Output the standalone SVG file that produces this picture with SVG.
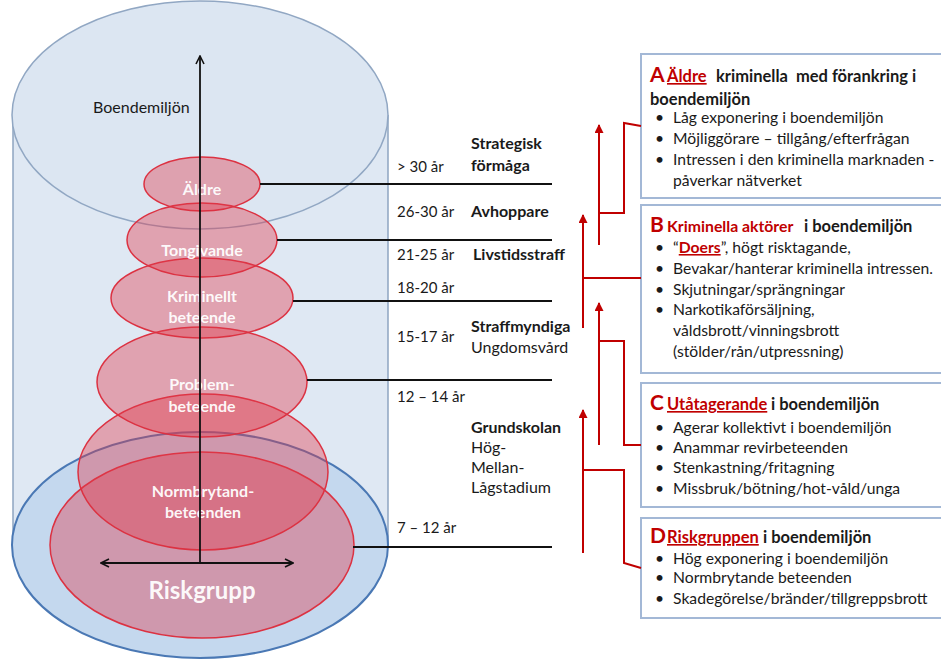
<svg xmlns="http://www.w3.org/2000/svg" width="941" height="659" viewBox="0 0 941 659">
<defs>
<style>
text{font-family:Lato,"Liberation Sans",sans-serif;font-size:15.7px;fill:#1a1a1a}
.b{font-weight:bold}
.h{font-weight:bold;font-size:16.5px}
.ag{font-size:15px}
.rt{font-size:16px}
.w{fill:#fff;font-weight:bold;text-anchor:middle;fill-opacity:.95;font-size:16px}
.big{font-size:24px}
.red{fill:#c00000;font-weight:bold}
.L{font-size:21px}
.u{text-decoration:underline}
.box{fill:#fff;stroke:#a3b8d6;stroke-width:2}
.rl{stroke:#c00000;stroke-width:2;fill:none}
.bl{stroke:#111;stroke-width:1.8;fill:none}
.re{fill:#e23a4c;fill-opacity:.4;stroke:#dc3242;stroke-width:1.5}
</style>
<marker id="oa" viewBox="0 0 10 10" refX="9" refY="5" markerWidth="10" markerHeight="10" markerUnits="userSpaceOnUse" orient="auto-start-reverse">
<path d="M1,1 L9,5 L1,9" fill="none" stroke="#111" stroke-width="1.6"/>
</marker>
<marker id="ra" viewBox="0 0 10 10" refX="9" refY="5" markerWidth="10" markerHeight="9" markerUnits="userSpaceOnUse" orient="auto">
<path d="M0,0 L10,5 L0,10 Z" fill="#c00000"/>
</marker>
</defs>
<rect width="941" height="659" fill="#fff"/>

<g id="cylinder">
<rect x="13" y="115" width="375" height="430" fill="#dfe8f3"/>
<line x1="13" y1="115" x2="13" y2="545" stroke="#8ea4c0" stroke-width="1.5"/>
<line x1="388" y1="115" x2="388" y2="545" stroke="#8ea4c0" stroke-width="1.5"/>
<ellipse cx="200" cy="545" rx="188" ry="113" fill="#c4d8ee" stroke="#4a78b4" stroke-width="2"/>
<ellipse cx="200" cy="115" rx="188" ry="114" fill="#dce6f2" stroke="#91a7c3" stroke-width="1.5"/>
<text x="93" y="113" style="font-size:16px">Boendemiljön</text>
</g>

<g id="riskgrupp">
<ellipse class="re" cx="202" cy="545" rx="152" ry="93"/>
<text class="w big" x="202" y="599">Riskgrupp</text>
</g>
<g id="normbrytand">
<ellipse class="re" cx="203" cy="472" rx="125" ry="78"/>
<text class="w" x="203" y="497">Normbrytand-</text>
<text class="w" x="203" y="518">beteenden</text>
</g>
<g id="problem">
<ellipse class="re" cx="202" cy="382" rx="105" ry="55"/>
<text class="w" x="202" y="390">Problem-</text>
<text class="w" x="202" y="412">beteende</text>
</g>
<g id="kriminellt">
<ellipse class="re" cx="202" cy="298" rx="91" ry="40"/>
<text class="w" x="202" y="302">Kriminellt</text>
<text class="w" x="202" y="323">beteende</text>
</g>
<g id="tongivande">
<ellipse class="re" cx="202" cy="240" rx="75" ry="37"/>
<text class="w" x="202" y="256">Tongivande</text>
</g>
<g id="aldre">
<ellipse class="re" cx="202" cy="184" rx="58" ry="27"/>
<text class="w" x="202" y="195">Äldre</text>
</g>

<g id="axes">
<line class="bl" x1="200" y1="563" x2="200" y2="56" marker-end="url(#oa)"/>
<line class="bl" x1="101" y1="563" x2="293" y2="563" marker-start="url(#oa)" marker-end="url(#oa)"/>
</g>

<g id="age-labels">
<text class="ag" x="397" y="172">&gt; 30 år</text>
<text class="ag" x="397" y="217">26-30 år</text>
<text class="ag" x="397" y="260">21-25 år</text>
<text class="ag" x="397" y="293">18-20 år</text>
<text class="ag" x="397" y="342">15-17 år</text>
<text class="ag" x="397" y="402">12 – 14 år</text>
<text class="ag" x="397" y="533">7 – 12 år</text>
<text class="b rt" x="471" y="149">Strategisk</text>
<text class="b rt" x="471" y="171">förmåga</text>
<text class="b rt" x="471" y="217">Avhoppare</text>
<text class="b rt" x="473" y="260">Livstidsstraff</text>
<text class="b rt" x="471" y="332">Straffmyndiga</text>
<text class="rt" x="471" y="353">Ungdomsvård</text>
<text class="b rt" x="471" y="433">Grundskolan</text>
<text class="rt" x="471" y="453">Hög-</text>
<text class="rt" x="471" y="473">Mellan-</text>
<text class="rt" x="471" y="493">Lågstadium</text>
</g>

<g id="box-a">
<rect class="box" x="641" y="54" width="310" height="144"/>
<text class="h" x="650" y="82"><tspan class="red L">A</tspan><tspan class="red u" x="667">Äldre</tspan><tspan x="716" xml:space="preserve">kriminella  med förankring i</tspan></text>
<text class="h" x="650" y="105">boendemiljön</text>
<text x="655" y="123">•</text><text x="673" y="123">Låg exponering i boendemiljön</text>
<text x="655" y="144">•</text><text x="673" y="144">Möjliggörare – tillgång/efterfrågan</text>
<text x="655" y="165">•</text><text x="673" y="165">Intressen i den kriminella marknaden -</text>
<text x="673" y="186">påverkar nätverket</text>
</g>

<g id="box-b">
<rect class="box" x="641" y="205" width="310" height="168"/>
<text class="h" x="650" y="232"><tspan class="red L">B</tspan><tspan class="red" x="667" style="font-size:15.8px">Kriminella aktörer</tspan><tspan x="804">i boendemiljön</tspan></text>
<text x="655" y="253">•</text><text x="673" y="253">“<tspan class="red u">Doers</tspan>”, högt risktagande,</text>
<text x="655" y="274">•</text><text x="673" y="274">Bevakar/hanterar kriminella intressen.</text>
<text x="655" y="295">•</text><text x="673" y="295">Skjutningar/sprängningar</text>
<text x="655" y="315">•</text><text x="673" y="315">Narkotikaförsäljning,</text>
<text x="673" y="336">våldsbrott/vinningsbrott</text>
<text x="673" y="357">(stölder/rån/utpressning)</text>
</g>

<g id="box-c">
<rect class="box" x="641" y="383" width="310" height="124"/>
<text class="h" x="650" y="410"><tspan class="red L">C</tspan><tspan class="red u" x="667">Utåtagerande</tspan><tspan x="771">i boendemiljön</tspan></text>
<text x="655" y="433">•</text><text x="673" y="433">Agerar kollektivt i boendemiljön</text>
<text x="655" y="453">•</text><text x="673" y="453">Anammar revirbeteenden</text>
<text x="655" y="473">•</text><text x="673" y="473">Stenkastning/fritagning</text>
<text x="655" y="494">•</text><text x="673" y="494">Missbruk/bötning/hot-våld/unga</text>
</g>

<g id="box-d">
<rect class="box" x="641" y="518" width="310" height="100"/>
<text class="h" x="650" y="543"><tspan class="red L">D</tspan><tspan class="red u" x="667">Riskgruppen</tspan><tspan x="763">i boendemiljön</tspan></text>
<text x="655" y="564">•</text><text x="673" y="564">Hög exponering i boendemiljön</text>
<text x="655" y="583">•</text><text x="673" y="583">Normbrytande beteenden</text>
<text x="655" y="604">•</text><text x="673" y="604">Skadegörelse/bränder/tillgreppsbrott</text>
</g>

<g id="connectors">
<line class="bl" x1="260" y1="184" x2="552" y2="184"/>
<line class="bl" x1="277" y1="240" x2="552" y2="240"/>
<line class="bl" x1="293" y1="301" x2="552" y2="301"/>
<line class="bl" x1="307" y1="380" x2="552" y2="380"/>
<line class="bl" x1="353" y1="547" x2="552" y2="547"/>
<line class="rl" x1="599" y1="245" x2="599" y2="125" marker-end="url(#ra)"/>
<polyline class="rl" points="599,213 624,213 624,123 641,126"/>
<line class="rl" x1="583" y1="328" x2="583" y2="215" marker-end="url(#ra)"/>
<polyline class="rl" points="583,278 641,278"/>
<line class="rl" x1="599" y1="445" x2="599" y2="303" marker-end="url(#ra)"/>
<polyline class="rl" points="599,341 624,341 624,445 641,445"/>
<line class="rl" x1="583" y1="553" x2="583" y2="410" marker-end="url(#ra)"/>
<polyline class="rl" points="583,470 624,470 624,563 641,568"/>
</g>
</svg>
